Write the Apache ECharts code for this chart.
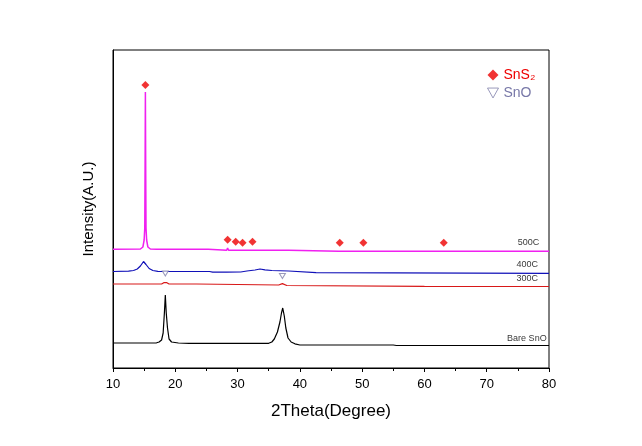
<!DOCTYPE html>
<html>
<head>
<meta charset="utf-8">
<script src="https://cdn.jsdelivr.net/npm/echarts@6/dist/echarts.min.js"></script>
<style>
html,body{margin:0;padding:0;background:#fff;}
#chart{width:642px;height:446px;}
</style>
</head>
<body>
<div id="chart"></div>
<script>
// ---- data (2Theta in degrees, intensity in arbitrary units, offset per sample) ----
var bareSnO = [[10,25],[15,25],[17.0,25.2],[17.4,26],[17.8,28],[18.05,35],[18.25,55],[18.4,73],[18.55,55],[18.75,40],[19.0,29],[19.4,26],[20.5,25],[22.2,24.6],[30,24.6],[35,24.7],[35.5,26],[35.9,29],[36.4,36],[36.8,46],[37.05,55],[37.25,60],[37.5,52],[37.75,40],[38.1,30],[38.6,26],[39.2,24.2],[40,23],[55,23],[55.5,22.5],[80,22.5]];
var s300C = [[10,84],[17.8,84],[18.15,85.3],[18.4,86],[18.65,85.3],[19.0,84],[23.4,84],[23.7,83],[36.6,83],[36.9,84],[37.2,84.4],[37.5,84],[37.9,82.5],[38.2,82],[60,81.6],[80,81.5]];
var s400C = [[10,96.5],[12.5,96.8],[13.3,97.5],[13.9,99],[14.4,102],[14.9,106.5],[15.3,103.5],[15.8,99.5],[16.4,97.5],[17.2,96.6],[25.5,96.5],[26.0,95.8],[28.2,95.8],[28.35,96.8],[28.5,95.8],[30.5,96],[31.5,97],[32.8,98],[33.6,99],[34.4,98.2],[35.5,97.5],[38.2,97],[38.5,95.4],[42.6,95.3],[42.9,94.7],[80,94.7]];
var s500C = [[10,118.7],[14.4,119],[14.8,121],[15.0,128],[15.1,140],[15.15,200],[15.2,276],[15.25,200],[15.3,140],[15.4,128],[15.6,121],[16.0,119],[17,118.7],[25.3,118.7],[25.5,117.7],[28.25,117.7],[28.4,120],[28.55,117.7],[29.55,117.7],[29.7,119.5],[29.85,117.7],[30.65,117.7],[30.8,119.2],[30.95,117.7],[32.25,117.7],[32.4,119.2],[32.55,117.7],[38.2,117.7],[38.4,116.7],[46.25,116.7],[46.4,118.3],[46.55,116.7],[50.05,116.7],[50.2,118.2],[50.35,116.7],[62.95,116.7],[63.1,118],[63.25,116.7],[80,116.7]];

var sns2Markers = [[15.2,283],[28.4,128.3],[29.7,126.3],[30.8,125.3],[32.4,126.3],[46.4,125.3],[50.2,125.3],[63.1,125.3]];
var snoMarkers = [[18.4,94.5],[37.2,92]];

var sampleLabels = [[78.5,125,'500C'],[78.3,103,'400C'],[78.3,89,'300C'],[79.7,29,'Bare SnO']];

var xTicks = {min:10, max:80, interval:10};
var yRange = {min:0, max:318};

// ---- chart ----
var FONT = 'Liberation Sans, Arial, sans-serif';
var chart = echarts.init(document.getElementById('chart'), null, {renderer:'canvas'});
function lineSeries(name, data, color, w){
  return {name:name, type:'line', data:data, showSymbol:false, symbol:'none', silent:true,
    lineStyle:{color:color, width:w || 1.2}, z:2, animation:false};
}
var option = {
  animation:false,
  backgroundColor:'#ffffff',
  grid:{left:113, right:93, top:50, bottom:78, show:true, borderColor:'#000', borderWidth:1, backgroundColor:'transparent'},
  legend:{
    orient:'vertical', left:482, top:63, itemGap:4, itemWidth:11, itemHeight:11,
    textStyle:{fontFamily:FONT, fontSize:14},
    data:[
      {name:'SnS₂', icon:'diamond', itemStyle:{color:'#ee0000'}, textStyle:{color:'#ee0000'}},
      {name:'SnO', icon:'path://M0,0L10,0L5,9Z', itemStyle:{color:'#ffffff', borderColor:'#8080aa', borderWidth:1}, textStyle:{color:'#7878a8'}}
    ]
  },
  xAxis:{
    type:'value', min:xTicks.min, max:xTicks.max, interval:xTicks.interval,
    name:'2Theta(Degree)', nameLocation:'middle', nameGap:35,
    nameTextStyle:{fontFamily:FONT, fontSize:17, color:'#000'},
    axisLine:{show:true, lineStyle:{color:'#000', width:1}},
    axisTick:{show:true, length:4, lineStyle:{color:'#000'}},
    minorTick:{show:true, splitNumber:2, length:3, lineStyle:{color:'#000'}},
    axisLabel:{fontFamily:FONT, fontSize:13, color:'#000', margin:10},
    splitLine:{show:false}
  },
  yAxis:{
    type:'value', min:yRange.min, max:yRange.max,
    name:'Intensity(A.U.)', nameLocation:'middle', nameGap:17,
    nameTextStyle:{fontFamily:FONT, fontSize:15, color:'#000'},
    axisLine:{show:true, lineStyle:{color:'#000', width:1}},
    axisTick:{show:false}, axisLabel:{show:false}, splitLine:{show:false}
  },
  series:[
    lineSeries('Bare SnO', bareSnO, '#000000'),
    lineSeries('300C', s300C, '#d81818'),
    lineSeries('400C', s400C, '#1010b8'),
    lineSeries('500C', s500C, '#f020f0', 1.5),
    {name:'SnS₂', type:'scatter', data:sns2Markers, symbol:'diamond', symbolSize:8,
      itemStyle:{color:'#ee0000'}, z:5, silent:true},
    {name:'SnO', type:'scatter', data:snoMarkers, symbol:'path://M0,0L10,0L5,9Z', symbolSize:[6,5],
      itemStyle:{color:'#ffffff', borderColor:'#8080aa', borderWidth:1}, z:5, silent:true},
    {name:'labels', type:'scatter', symbol:'circle', symbolSize:1, silent:true,
      itemStyle:{color:'transparent'},
      data:sampleLabels.map(function(d){return {value:[d[0],d[1]], name:d[2]};}),
      label:{show:true, position:'left', distance:0, formatter:'{b}', fontFamily:FONT, fontSize:9, color:'#000'}, z:6}
  ]
};
chart.setOption(option);
</script>
</body>
</html>
